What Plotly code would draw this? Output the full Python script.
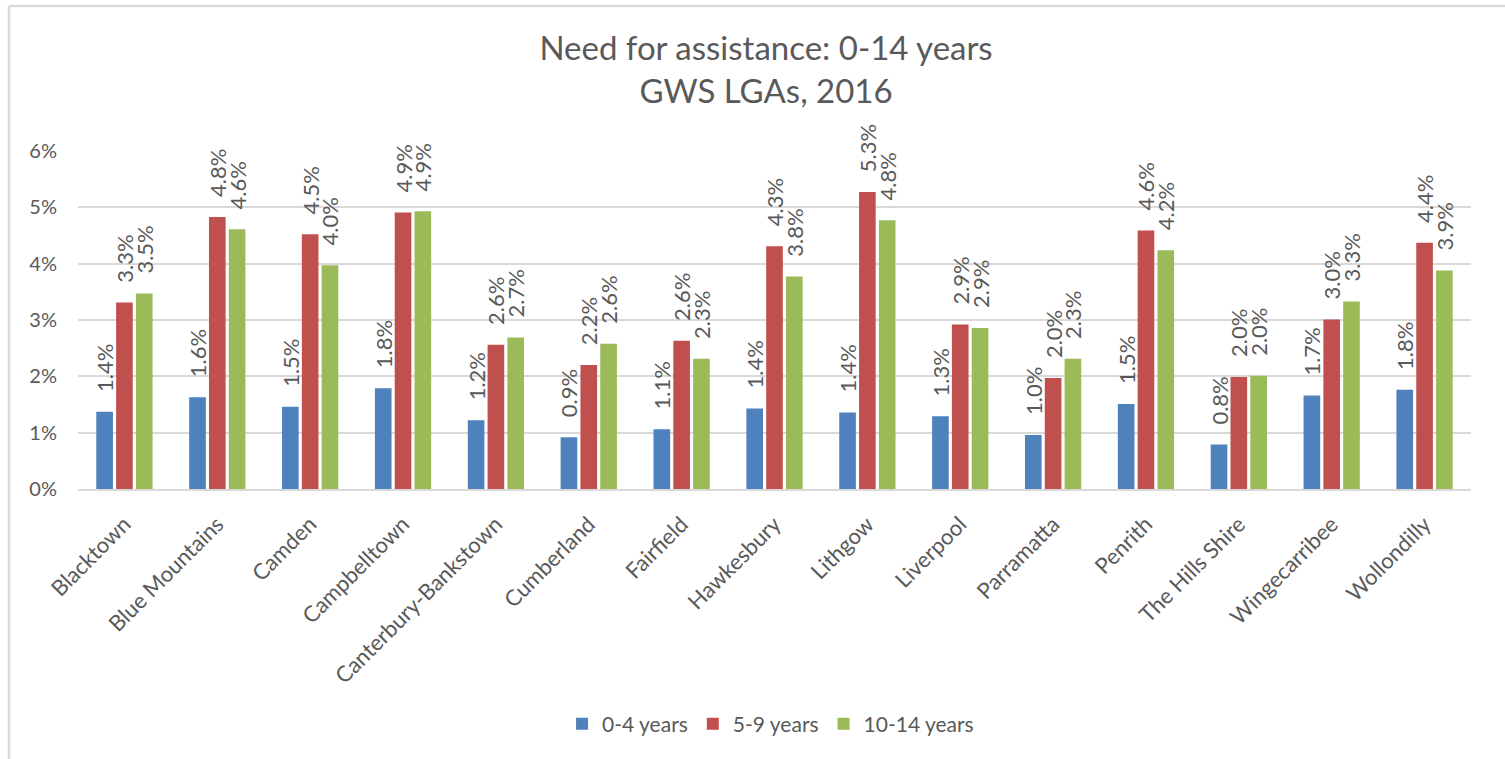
import plotly.graph_objects as go

categories = ["Blacktown", "Blue Mountains", "Camden", "Campbelltown", "Canterbury-Bankstown",
              "Cumberland", "Fairfield", "Hawkesbury", "Lithgow", "Liverpool", "Parramatta",
              "Penrith", "The Hills Shire", "Wingecarribee", "Wollondilly"]

age_0_4 = [1.37, 1.63, 1.46, 1.79, 1.22, 0.92, 1.06, 1.43, 1.36, 1.29, 0.96, 1.51, 0.79, 1.66, 1.76]
age_5_9 = [3.31, 4.83, 4.52, 4.91, 2.56, 2.20, 2.63, 4.31, 5.27, 2.92, 1.97, 4.59, 1.99, 3.01, 4.37]
age_10_14 = [3.47, 4.61, 3.97, 4.93, 2.69, 2.58, 2.31, 3.77, 4.77, 2.86, 2.31, 4.24, 2.01, 3.33, 3.88]

series_names = ["0-4 years", "5-9 years", "10-14 years"]
series_colors = ["#4F81BD", "#C0504D", "#9BBB59"]
y_ticks = [0, 1, 2, 3, 4, 5, 6]

FONT = "Lato"
GREY = "#595959"
W, H = 1505, 759
ML, MR, MT, MB = 78, 34, 151, 270

fig = go.Figure()
for name, vals, col in zip(series_names, [age_0_4, age_5_9, age_10_14], series_colors):
    fig.add_trace(go.Bar(
        x=categories,
        y=[v / 100 for v in vals],
        name=name,
        marker=dict(color=col, line=dict(width=0)),
        texttemplate="\u00a0\u00a0\u00a0%{y:.1%}",
        textposition="outside",
        textangle=-90,
        constraintext="none",
        cliponaxis=False,
        textfont=dict(family=FONT, size=22, color=GREY),
    ))

pw = W - ML - MR
ph = H - MT - MB


def px_x(x):
    return (x - ML) / pw


def px_y(y):
    return (H - MB - y) / ph


fig.update_layout(
    width=W, height=H,
    margin=dict(l=ML, r=MR, t=MT, b=MB, pad=0),
    paper_bgcolor="white", plot_bgcolor="white",
    barmode="group", bargap=0.36, bargroupgap=0.16,
    font=dict(family=FONT, color=GREY),
    title=dict(
        text="Need for assistance: 0-14 years<br>GWS LGAs, 2016",
        x=0.509, xref="container", xanchor="center",
        y=1 - 60 / H, yref="container", yanchor="top",
        font=dict(family=FONT, size=33, color=GREY),
    ),
    xaxis=dict(
        tickangle=-45, showgrid=False, showline=True, linecolor="#d9d9d9", linewidth=1.5,
        ticks="", ticklabelstandoff=12, tickfont=dict(family=FONT, size=22, color=GREY),
    ),
    yaxis=dict(
        range=[0, 0.06], tickvals=[t / 100 for t in y_ticks], tickformat=".0%",
        showgrid=True, gridcolor="#d9d9d9", gridwidth=1.5, zeroline=False,
        showline=False, ticks="", ticklabelstandoff=20,
        tickfont=dict(family=FONT, size=20, color=GREY),
    ),
    legend=dict(
        orientation="h", xref="container", x=0.512, xanchor="center",
        yref="container", y=1 - 724 / H, yanchor="middle",
        font=dict(family=FONT, size=21, color=GREY), itemwidth=30, traceorder="normal",
    ),
    showlegend=True,
    shapes=[
        dict(type="line", xref="paper", yref="paper", x0=px_x(9), x1=px_x(W), y0=px_y(6), y1=px_y(6),
             line=dict(color="#d9d9d9", width=2.5)),
        dict(type="line", xref="paper", yref="paper", x0=px_x(9), x1=px_x(9), y0=px_y(6), y1=px_y(H),
             line=dict(color="#d9d9d9", width=2.5)),
    ],
)

fig.write_html("out.html")
